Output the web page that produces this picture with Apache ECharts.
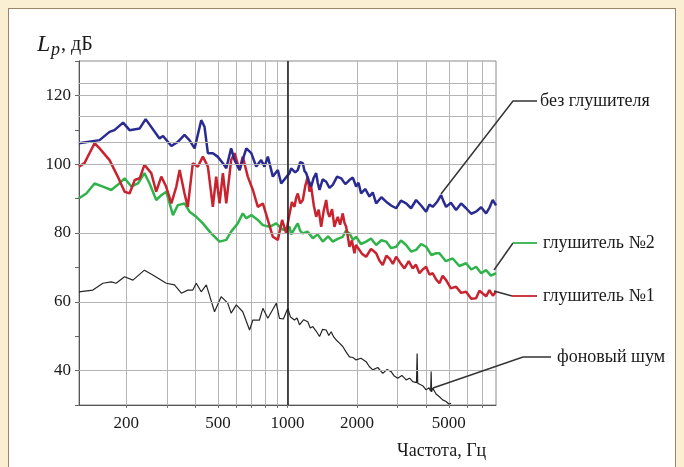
<!DOCTYPE html>
<html><head><meta charset="utf-8">
<script src="https://cdn.jsdelivr.net/npm/echarts@6/dist/echarts.min.js"></script>
<style>
html,body{margin:0;padding:0;background:#fbefd3;width:684px;height:467px;overflow:hidden}
#panel{position:absolute;left:8px;top:8px;width:668px;height:470px;background:#fff;border:1px solid #9c8468;box-sizing:border-box}
#chart{position:absolute;left:0;top:0;width:684px;height:467px}
</style></head><body>
<div id="panel"></div><div id="chart"></div>
<script>
// ---- axis / tick data ----
const xMin = 125, xMax = 8000;
const gridFreqs = [200,300,400,500,600,700,800,900,1000,2000,3000,4000,5000,6000,7000];
const labelFreqs = [200,500,1000,2000,5000];
const yMin = 30, yMax = 130;
const yTickLabels = [40,60,80,100,120];
const hLines = [40,60,80,100,106.3,114,120,123.5];

// ---- series: без глушителя (blue) ----
const freqBlue = [125,153.5,169.5,178,194,207,229,243,279,289,314,335,358,376,396,423,437,452,475,498,525,543,570,590,620,663,697,732,769,795,822,864,908,939,
1020,1037,1054,1080,1108,1135,1165,1185,1205,1235,1266,1298,1331,1352,1376,1420,1471,1520,1571,1640,1708,1780,1855,1918,1983,2030,2084,2170,2265,2340,2421,2550,2675,2810,2955,3100,3265,3430,3606,3790,3984,4120,4256,4440,4628,4740,4864,5100,5374,5650,5937,6250,6559,6900,7247,7500,7742,8000];
const dbBlue = [106.1,107.0,109.4,109.9,112.1,109.9,110.4,113.1,107.5,108.2,105.3,106.5,108.5,107.0,104.6,112.8,110.9,103.2,103.2,102.2,100.3,98.8,104.6,101.2,98.3,104.6,103.2,99.3,101.2,99.3,102.2,96.4,98.3,94.4,
97.4,98.8,99.3,97.6,98.3,100.6,100.3,98.0,97.4,95.2,93.5,96.0,97.4,94.6,92.5,95.6,94.9,93.1,94.0,96.4,95.9,94.2,95.4,96.1,93.5,94.6,91.5,92.8,90.6,91.8,88.6,90.4,89.1,88.0,87.2,89.4,88.6,87.2,89.6,88.0,86.2,88.3,87.6,89.0,91.0,89.2,87.6,88.8,86.7,88.6,87.2,85.6,86.2,87.5,85.7,87.4,89.6,88.0];

// ---- series: глушитель №1 (red) ----
const freqRed = [125,132,146,153.5,169.5,184,197,207,218,229,240,257,270,284,298,314,330,341,358,370,389,409,430,452,475,491,508,525,543,570,590,620,640,673,708,744,782,822,864,908,948,987,
1010,1045,1072,1090,1108,1135,1165,1195,1224,1245,1266,1300,1331,1365,1399,1435,1471,1495,1520,1560,1597,1625,1651,1690,1735,1765,1795,1825,1855,1900,1950,1980,2009,2100,2191,2300,2421,2500,2586,2680,2765,2860,2955,3080,3210,3350,3487,3600,3728,3850,3984,4120,4256,4400,4550,4700,4864,5100,5374,5650,5937,6250,6559,6780,7008,7250,7490,7750,8000];
const dbRed = [99.3,100.3,106.1,104.6,101.2,96.4,92.0,91.5,95.4,95.9,99.8,97.4,92.0,96.4,93.5,88.6,93.5,98.3,91.5,87.6,100.3,99.3,102.2,99.3,87.6,96.4,88.6,97.4,88.6,101.2,103.2,98.3,102.2,96.4,92.5,87.6,88.6,83.8,78.9,78.0,83.8,79.9,
84.0,89.0,87.6,90.2,91.5,88.6,89.6,93.8,96.4,92.0,93.5,88.0,84.7,86.8,81.8,86.5,89.6,86.0,84.7,86.9,81.8,83.5,84.7,82.4,85.7,83.0,81.8,79.0,76.0,77.8,74.1,76.5,76.0,74.0,73.1,75.4,74.1,72.0,70.7,73.4,72.6,71.0,73.1,71.3,69.7,71.8,69.7,70.8,68.3,69.4,70.2,67.9,68.3,66.5,65.4,67.6,66.3,63.9,64.4,62.6,62.9,60.9,61.0,63.2,62.4,61.6,63.4,61.8,62.9];

// ---- series: глушитель №2 (green) ----
const freqGreen = [125,134.5,146,158.6,172.5,184,197,210.6,225,240,252.7,270,284,298.5,319,335,358,376.5,402.5,430,467,508,543,570,609,640,663,697,744,782,836,894,954,
1020,1037,1054,1080,1108,1135,1165,1220,1287,1350,1422,1500,1571,1650,1735,1790,1855,1920,1983,2080,2191,2300,2421,2550,2675,2810,2955,3100,3265,3430,3606,3790,3984,4200,4404,4550,4850,5195,5550,5937,6250,6559,6900,7247,7600,8000];
const dbGreen = [90.1,91.5,94.4,93.5,92.5,94.0,95.9,93.5,94.4,97.4,94.4,89.6,91.0,92.0,85.2,88.1,88.6,86.2,84.7,82.8,79.9,77.5,78.0,80.4,82.8,85.7,84.3,85.2,83.8,82.3,81.8,82.8,80.9,
81.8,79.6,79.9,81.6,82.8,80.6,79.9,80.4,78.5,79.6,77.5,79.0,77.5,78.3,78.9,80.6,79.9,78.0,78.9,76.8,77.5,78.4,76.5,77.9,77.5,75.6,76.0,77.8,76.5,74.6,75.1,76.8,76.0,73.6,74.1,74.1,71.8,72.6,70.4,71.2,69.4,70.2,68.3,69.2,67.6,68.3];

// ---- series: фоновый шум (black) ----
const freqNoise = [125,143.6,158.6,172.5,181,197,214,240,261,298.5,324,347,370,389,402.5,423,445,483,516,551,570,600,640,685,708,756,782,822,894,923,960,
1003,1030,1072,1100,1127,1175,1224,1255,1287,1330,1376,1420,1471,1510,1546,1585,1625,1680,1735,1790,1855,1920,1983,2080,2191,2260,2341,2460,2586,2700,2811,2900,3002,3130,3265,3380,3487,3620,3643,3665,3728,3850,3984,4100,4170,4190,4210,4256,4400,4550,4700,4864,5000,5113];
const dbNoise = [62.9,63.4,65.4,65.8,65.4,67.3,66.3,69.2,67.8,65.4,64.9,62.5,63.4,63.4,65.4,62.9,64.9,57.1,61.5,59.6,56.7,59.1,57.1,51.8,54.7,54.7,58.1,55.2,59.6,55.2,55.0,
58.1,55.6,54.7,55.3,53.3,54.8,54.2,52.4,52.8,51.5,49.9,52.0,51.8,50.2,51.3,49.8,48.9,48.0,47.0,45.5,44.0,43.8,43.1,43.6,42.6,41.2,40.2,40.9,39.2,40.3,39.7,38.4,37.8,38.6,37.3,37.8,36.8,36.5,45.0,36.3,36.3,35.6,34.4,35.0,34.0,39.7,33.8,34.9,33.2,32.4,31.5,31.0,30.3,30.5];

const LOG = Math.log10;
function pts(f, d) { return f.map((v, i) => [LOG(v), d[i]]); }
const serif = '"Liberation Serif", "DejaVu Serif", serif';

const chart = echarts.init(document.getElementById('chart'), null, {renderer: 'canvas'});
const lineSeries = (name, f, d, color, w, extra) => Object.assign({
  name, type: 'line', data: pts(f, d), showSymbol: false, symbol: 'none',
  lineStyle: {color, width: w}, itemStyle: {color}, silent: true
}, extra || {});

const option = {
  animation: false,
  backgroundColor: 'transparent',
  grid: {left: 79, right: 188, top: 61, bottom: 62, show: true, borderColor: '#8a8a8a', borderWidth: 1, backgroundColor: 'transparent'},
  xAxis: {
    type: 'value', min: LOG(xMin), max: LOG(xMax),
    axisLine: {onZero: false, lineStyle: {color: '#555', width: 1}},
    axisTick: {customValues: gridFreqs.map(LOG), length: 3, lineStyle: {color: '#777'}},
    axisLabel: {customValues: labelFreqs.map(LOG), formatter: v => String(Math.round(Math.pow(10, v))),
      fontFamily: serif, fontSize: 17, color: '#1a1a1a', margin: 10},
    splitLine: {show: true, lineStyle: {color: '#b5b5b5', width: 1}}
  },
  yAxis: {
    type: 'value', min: yMin, max: yMax, interval: 10,
    axisLine: {show: true, lineStyle: {color: '#555', width: 1}},
    axisTick: {show: true, length: 4, lineStyle: {color: '#666'}},
    axisLabel: {formatter: v => yTickLabels.includes(v) ? String(v) : '', fontFamily: serif, fontSize: 17, color: '#1a1a1a', margin: 8},
    splitLine: {show: false}
  },
  series: [
    lineSeries('фоновый шум', freqNoise, dbNoise, '#262626', 1.2, {
      markLine: {silent: true, symbol: 'none', label: {show: false}, animation: false,
        lineStyle: {color: '#b5b5b5', width: 1, type: 'solid'},
        data: hLines.map(v => ({yAxis: v})).concat([{xAxis: 3, lineStyle: {color: '#222', width: 1.6, type: 'solid'}}])}
    }),
    lineSeries('глушитель №2', freqGreen, dbGreen, '#2fb34a', 2.5),
    lineSeries('глушитель №1', freqRed, dbRed, '#c8232f', 2.5),
    lineSeries('без глушителя', freqBlue, dbBlue, '#2a2b92', 2.5)
  ],
  graphic: [
    {type: 'text', z: 100, style: {x: 37, y: 45, text: 'L', font: 'italic 24px ' + serif, fill: '#1a1a1a', verticalAlign: 'middle'}},
    {type: 'text', z: 100, style: {x: 51, y: 50, text: 'p', font: 'italic 18px ' + serif, fill: '#1a1a1a', verticalAlign: 'middle'}},
    {type: 'text', z: 100, style: {x: 61, y: 45, text: ', дБ', font: '20px ' + serif, fill: '#1a1a1a', verticalAlign: 'middle'}},
    {type: 'text', z: 100, style: {x: 397, y: 451, text: 'Частота, Гц', font: '18px ' + serif, fill: '#1a1a1a', verticalAlign: 'middle'}},

    {type: 'polyline', z: 100, shape: {points: [[441, 194], [513, 101], [537, 101]]}, style: {stroke: '#333', lineWidth: 1.5, fill: null}},
    {type: 'text', z: 100, style: {x: 540, y: 101, text: 'без глушителя', font: '18px ' + serif, fill: '#1a1a1a', verticalAlign: 'middle'}},

    {type: 'polyline', z: 100, shape: {points: [[494, 270], [513, 243]]}, style: {stroke: '#333', lineWidth: 1.5, fill: null}},
    {type: 'polyline', z: 100, shape: {points: [[513, 243], [537, 243]]}, style: {stroke: '#2fb34a', lineWidth: 1.8, fill: null}},
    {type: 'text', z: 100, style: {x: 543, y: 243, text: 'глушитель №2', font: '18px ' + serif, fill: '#1a1a1a', verticalAlign: 'middle'}},

    {type: 'polyline', z: 100, shape: {points: [[494, 291], [512, 296]]}, style: {stroke: '#333', lineWidth: 1.5, fill: null}},
    {type: 'polyline', z: 100, shape: {points: [[512, 296], [537, 296]]}, style: {stroke: '#c8232f', lineWidth: 1.8, fill: null}},
    {type: 'text', z: 100, style: {x: 543, y: 296, text: 'глушитель №1', font: '18px ' + serif, fill: '#1a1a1a', verticalAlign: 'middle'}},

    {type: 'polyline', z: 100, shape: {points: [[433, 388], [523, 357], [551, 357]]}, style: {stroke: '#333', lineWidth: 1.5, fill: null}},
    {type: 'text', z: 100, style: {x: 557, y: 357, text: 'фоновый шум', font: '18px ' + serif, fill: '#1a1a1a', verticalAlign: 'middle'}}
  ]
};
chart.setOption(option);
</script></body></html>
